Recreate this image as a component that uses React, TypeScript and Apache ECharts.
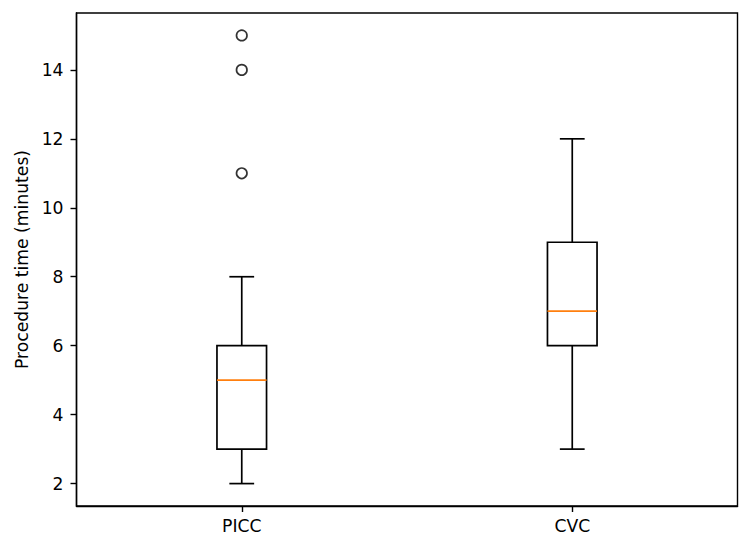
import React, { useEffect, useRef } from "react";
import * as echarts from "echarts";

const categories = ["PICC", "CVC"];
const whiskerLow = [2, 3];
const q1 = [3, 6];
const medians = [5, 7];
const q3 = [6, 9];
const whiskerHigh = [8, 12];
const outlierCategoryIndex = [0, 0, 0];
const outlierValues = [15, 14, 11];
const yTicks = [2, 4, 6, 8, 10, 12, 14];

const FONT = "DejaVu Sans";
const FS = 17.2;

export default function App() {
  const ref = useRef<HTMLDivElement>(null);
  useEffect(() => {
    if (!ref.current) return;
    const chart = echarts.init(ref.current, null, { renderer: "svg" });
    const boxData = categories.map((_, i) => [i, whiskerLow[i], q1[i], medians[i], q3[i], whiskerHigh[i]]);
    const outlierData = outlierValues.map((v, i) => [outlierCategoryIndex[i], v]);
    const lw = 1.7;
    const axW = 1.4;
    chart.setOption({
      animation: false,
      backgroundColor: "#fff",
      grid: {
        left: 76.5,
        right: 12.5,
        top: 13,
        bottom: 45,
        show: true,
        borderColor: "#000",
        borderWidth: axW,
        backgroundColor: "transparent",
      },
      xAxis: {
        type: "category",
        data: categories,
        boundaryGap: true,
        axisLine: { show: true, lineStyle: { color: "#000", width: axW } },
        axisTick: { show: true, alignWithLabel: true, length: 6, lineStyle: { color: "#000", width: axW } },
        axisLabel: { color: "#000", fontFamily: FONT, fontSize: FS, margin: 11 },
        splitLine: { show: false },
      },
      yAxis: {
        type: "value",
        min: 1.35,
        max: 15.65,
        name: "Procedure time (minutes)",
        nameLocation: "middle",
        nameGap: 45,
        nameTextStyle: { color: "#000", fontFamily: FONT, fontSize: FS },
        axisLine: { show: true, lineStyle: { color: "#000", width: axW } },
        axisTick: { show: true, length: 6, customValues: yTicks, lineStyle: { color: "#000", width: axW } },
        axisLabel: { color: "#000", fontFamily: FONT, fontSize: FS, margin: 13, customValues: yTicks },
        splitLine: { show: false },
      },
      series: [
        {
          type: "custom",
          data: boxData,
          encode: { x: 0, y: [1, 2, 3, 4, 5] },
          renderItem: (params: any, api: any) => {
            const idx = api.value(0);
            const band = api.size([1, 0])[0];
            const half = (band * 0.15) / 2;
            const capHalf = half / 2;
            const pLow = api.coord([idx, api.value(1)]);
            const pQ1 = api.coord([idx, api.value(2)]);
            const pMed = api.coord([idx, api.value(3)]);
            const pQ3 = api.coord([idx, api.value(4)]);
            const pHigh = api.coord([idx, api.value(5)]);
            const cx = pMed[0];
            const black = { stroke: "#000", lineWidth: lw, fill: "none" };
            return {
              type: "group",
              children: [
                { type: "line", shape: { x1: cx, y1: pQ1[1], x2: cx, y2: pLow[1] }, style: black },
                { type: "line", shape: { x1: cx, y1: pQ3[1], x2: cx, y2: pHigh[1] }, style: black },
                { type: "line", shape: { x1: cx - capHalf, y1: pLow[1], x2: cx + capHalf, y2: pLow[1] }, style: black },
                { type: "line", shape: { x1: cx - capHalf, y1: pHigh[1], x2: cx + capHalf, y2: pHigh[1] }, style: black },
                {
                  type: "rect",
                  shape: { x: cx - half, y: pQ3[1], width: half * 2, height: pQ1[1] - pQ3[1] },
                  style: { stroke: "#000", lineWidth: lw, fill: "transparent" },
                },
                {
                  type: "line",
                  shape: { x1: cx - half, y1: pMed[1], x2: cx + half, y2: pMed[1] },
                  style: { stroke: "#ff7f0e", lineWidth: lw, fill: "none" },
                },
              ],
            };
          },
        },
        {
          type: "scatter",
          data: outlierData,
          symbol: "circle",
          symbolSize: 10.5,
          itemStyle: { color: "transparent", borderColor: "#000", borderWidth: 1.7 },
        },
      ],
    });
    return () => chart.dispose();
  }, []);
  return <div ref={ref} style={{ width: 750, height: 551, position: "absolute", left: 0, top: 0 }} />;
}
